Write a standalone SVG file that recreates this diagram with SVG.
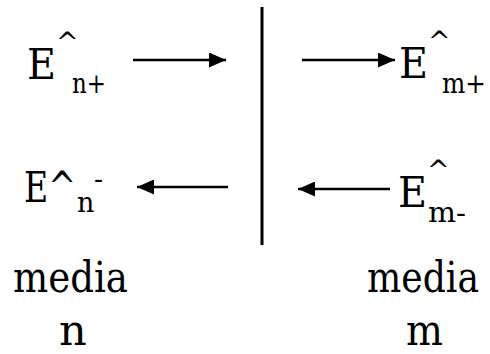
<svg xmlns="http://www.w3.org/2000/svg" width="490" height="354" viewBox="0 0 490 354">
<style>
.t{font-family:'DejaVu Serif',serif;fill:#000}
.big{font-size:43px}
.sub{font-size:27px}
.line{stroke:#000;stroke-width:2.5;fill:none}
</style>
<defs>
<marker id="ah" markerWidth="17" markerHeight="15" refX="17" refY="7.5" orient="auto" markerUnits="userSpaceOnUse">
<path d="M0,0 L17,7.5 L0,15 Z" fill="#000"/>
</marker>
</defs>
<rect width="490" height="354" fill="#fff"/>
<g id="connectors">
<line class="line" x1="133" y1="60" x2="226" y2="60" marker-end="url(#ah)"/>
<line class="line" x1="302" y1="60" x2="395" y2="60" marker-end="url(#ah)"/>
<line class="line" x1="228" y1="187" x2="137" y2="187" marker-end="url(#ah)"/>
<line class="line" x1="390" y1="189" x2="298" y2="189" marker-end="url(#ah)"/>
</g>
<g id="interface">
<line x1="262" y1="7" x2="262" y2="245" stroke="#000" stroke-width="3"/>
</g>
<g id="E-n-plus">
<text class="t big" x="27" y="79" textLength="29" lengthAdjust="spacingAndGlyphs">E</text>
<text class="t sub" x="56" y="52">^</text>
<text class="t sub" x="72" y="93" textLength="34" lengthAdjust="spacingAndGlyphs">n+</text>
</g>
<g id="E-m-plus">
<text class="t big" x="399" y="78" textLength="29" lengthAdjust="spacingAndGlyphs">E</text>
<text class="t sub" x="428" y="51">^</text>
<text class="t sub" x="442" y="93" textLength="44" lengthAdjust="spacingAndGlyphs">m+</text>
</g>
<g id="E-n-minus">
<text class="t big" x="24" y="202" textLength="52" lengthAdjust="spacingAndGlyphs">E^</text>
<text class="t sub" x="77" y="212">n</text>
<text class="t sub" x="94" y="188">-</text>
</g>
<g id="E-m-minus">
<text class="t big" x="398" y="207" textLength="29" lengthAdjust="spacingAndGlyphs">E</text>
<text class="t sub" x="427" y="180">^</text>
<text class="t sub" x="428" y="222" textLength="38" lengthAdjust="spacingAndGlyphs">m-</text>
</g>
<g id="media-n">
<text class="t big" x="13" y="292" textLength="115" lengthAdjust="spacingAndGlyphs">media</text>
<text class="t big" x="59" y="345">n</text>
</g>
<g id="media-m">
<text class="t big" x="367" y="292" textLength="112" lengthAdjust="spacingAndGlyphs">media</text>
<text class="t big" x="406" y="345" textLength="37" lengthAdjust="spacingAndGlyphs">m</text>
</g>
</svg>
